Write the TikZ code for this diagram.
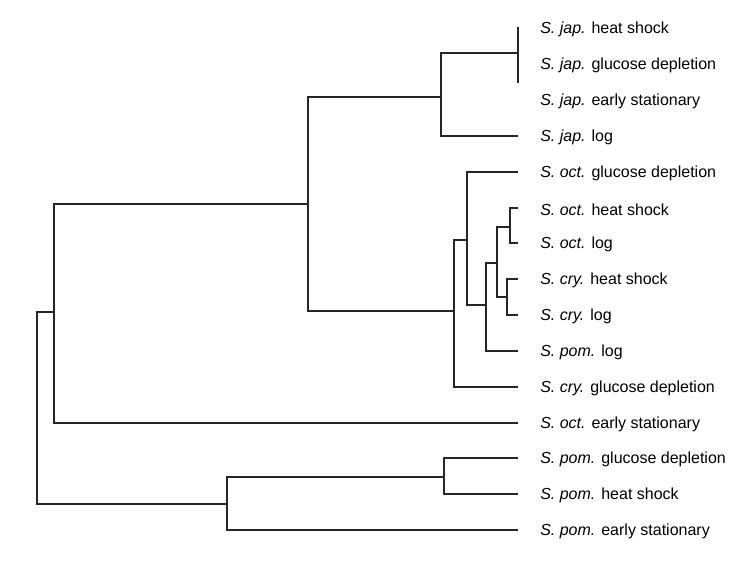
\documentclass[tikz,border=0pt]{standalone}
\usepackage{fontspec}
\setmainfont{Liberation Sans}
\tikzset{branch/.style={draw=black!85, line width=1.2pt}}

\begin{document}
\begin{tikzpicture}[x=0.75pt,y=-0.75pt]
        \useasboundingbox (0,0) rectangle (736,567);
        \begin{scope}[every node/.style={anchor=west,inner sep=0pt,yshift=-1.2pt,font=\fontsize{12}{14}\selectfont}]
            \node (jhs) at (540, 28) {\textit{S. jap.} heat shock};
            \node (jgd) at (540, 64) {\textit{S. jap.} glucose depletion};
            \node (jes) at (540,100) {\textit{S. jap.} early stationary};
            \node (jlg) at (540,136) {\textit{S. jap.} log};
            \node (ogd) at (540,172) {\textit{S. oct.} glucose depletion};
            \node (ohs) at (540,208) {\textit{S. oct.} heat shock};
            \node (olg) at (540,243) {\textit{S. oct.} log};
            \node (chs) at (540,279) {\textit{S. cry.} heat shock};
            \node (clg) at (540,315) {\textit{S. cry.} log};
            \node (plg) at (540,351) {\textit{S. pom.} log};
            \node (cgd) at (540,387) {\textit{S. cry.} glucose depletion};
            \node (oes) at (540,423) {\textit{S. oct.} early stationary};
            \node (pgd) at (540,458) {\textit{S. pom.} glucose depletion};
            \node (phs) at (540,494) {\textit{S. pom.} heat shock};
            \node (pes) at (540,530) {\textit{S. pom.} early stationary};
        \end{scope}
        % leaf tips
        \coordinate (t1) at (518, 27);
        \coordinate (t1b) at (518, 83);
        \coordinate (t4) at (518,136);
        \coordinate (t5) at (518,172);
        \coordinate (t6) at (518,208);
        \coordinate (t7) at (518,243);
        \coordinate (t8) at (518,279);
        \coordinate (t9) at (518,315);
        \coordinate (t10) at (518,351);
        \coordinate (t11) at (518,387);
        \coordinate (t12) at (518,423);
        \coordinate (t13) at (518,458);
        \coordinate (t14) at (518,494);
        \coordinate (t15) at (518,530);
        % inner joins
        \coordinate (jap0) at (518, 53);
        \coordinate (jap) at (441, 97);
        \coordinate (octH) at (510,227);
        \coordinate (cryI) at (507,297);
        \coordinate (nG) at (497,263);
        \coordinate (nF) at (486,305);
        \coordinate (nE) at (467,240);
        \coordinate (nD) at (454,311);
        \coordinate (nB) at (308,204);
        \coordinate (nA) at (54,312);
        \coordinate (pomJ) at (444,477);
        \coordinate (nK) at (227,504);
        \coordinate (root) at (37,408);
        \path [branch] (t1) -- (t1b);
        \path [branch] (jap0) -| (jap) |- (t4);
        \path [branch] (t6) -| (octH) |- (t7);
        \path [branch] (t8) -| (cryI) |- (t9);
        \path [branch] (octH) -| (nG) |- (cryI);
        \path [branch] (nG) -| (nF) |- (t10);
        \path [branch] (t5) -| (nE) |- (nF);
        \path [branch] (nE) -| (nD) |- (t11);
        \path [branch] (jap) -| (nB) |- (nD);
        \path [branch] (nB) -| (nA) |- (t12);
        \path [branch] (t13) -| (pomJ) |- (t14);
        \path [branch] (pomJ) -| (nK) |- (t15);
        \path [branch] (nA) -| (root) |- (nK);
    \end{tikzpicture}
\end{document}
